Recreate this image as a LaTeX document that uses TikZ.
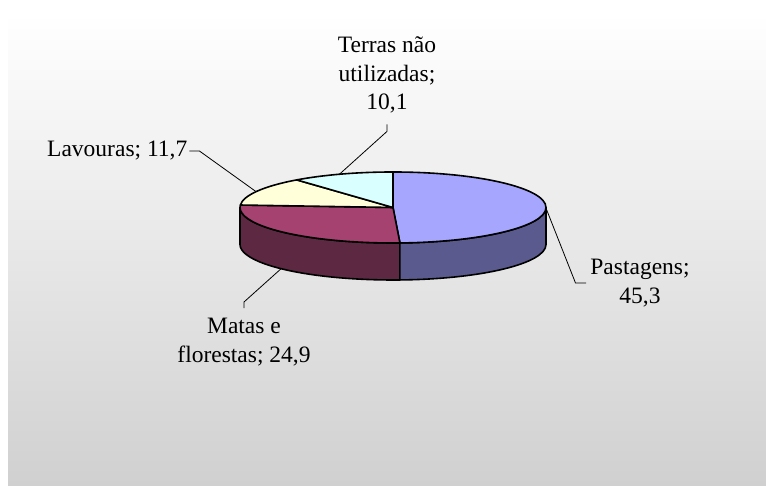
\documentclass[tikz,border=0pt]{standalone}
\usepackage{fontspec}
\setmainfont{Liberation Serif}
\usetikzlibrary{calc}
\definecolor{bgbot}{RGB}{208,208,208}
\definecolor{pasTop}{RGB}{166,166,255}
\definecolor{pasSide}{RGB}{90,90,142}
\definecolor{matTop}{RGB}{166,66,112}
\definecolor{matSide}{RGB}{92,40,66}
\definecolor{lavTop}{RGB}{255,255,218}
\definecolor{terTop}{RGB}{218,255,255}
\begin{document}
\begin{tikzpicture}[x=1pt,y=1pt,
  lbl/.style={font=\fontsize{23.5}{28.5}\selectfont, align=center, inner sep=0pt, text=black},
  leader/.style={draw=black, line width=0.8pt},
  edge/.style={draw=black, line width=1.6pt, line join=round},
  ell/.style={x radius=153pt, y radius=35.5pt}]
\useasboundingbox (0,0) rectangle (766,486);
\fill[white] (0,0) rectangle (766,486);
\shade[top color=white, bottom color=bgbot] (8,0) rectangle (766,472);

\coordinate (C) at (393,278.5);
\coordinate (Cb) at (393,241.5);

% side walls
\filldraw[edge, fill=matSide] ($(C)+(180:153pt and 35.5pt)$) arc[start angle=180,end angle=272.6,ell] -- ++(0,-37) arc[start angle=272.6,end angle=180,ell] -- cycle;
\filldraw[edge, fill=pasSide] ($(C)+(272.6:153pt and 35.5pt)$) arc[start angle=272.6,end angle=360,ell] -- ++(0,-37) arc[start angle=360,end angle=272.6,ell] -- cycle;

% top slices
\filldraw[edge, fill=pasTop] (C) -- ++(90:153pt and 35.5pt) arc[start angle=90,end angle=-87.4,ell] -- cycle;
\filldraw[edge, fill=matTop] (C) -- ++(-87.4:153pt and 35.5pt) arc[start angle=-87.4,end angle=-184,ell] -- cycle;
\filldraw[edge, fill=lavTop] (C) -- ++(176:153pt and 35.5pt) arc[start angle=176,end angle=129,ell] -- cycle;
\filldraw[edge, fill=terTop] (C) -- ++(129:153pt and 35.5pt) arc[start angle=129,end angle=90,ell] -- cycle;

% leader anchor points on the pie
\coordinate (pT) at ($(C)+(110.5:153pt and 35.5pt)$);
\coordinate (pL) at ($(C)+(153.5:153pt and 35.5pt)$);
\coordinate (pP) at ($(C)+(-1:153pt and 35.5pt)$);
\coordinate (pM) at ($(Cb)+(-137:153pt and 35.5pt)$);

% labels
\node[lbl, inner ysep=11pt] (ter) at (387,411) {Terras não\\utilizadas;\\10,1};
\node[lbl, anchor=base west, inner xsep=2pt] (lav) at (45,329) {Lavouras; 11,7};
\node[lbl, inner xsep=4pt] (pas) at (640,203) {Pastagens;\\45,3};
\node[lbl, inner ysep=10pt] (mat) at (244,144) {Matas e\\florestas; 24,9};

% leaders
\draw[leader] (ter.south) -- ++(0,-7) -- (pT);
\draw[leader] (lav.east) -- ++(10,0) -- (pL);
\draw[leader] (pP) -- (575.5,0 |- pas.west) -- (pas.west);
\draw[leader] (pM) -- (mat.north |- 0,184) -- (mat.north);
\end{tikzpicture}
\end{document}
